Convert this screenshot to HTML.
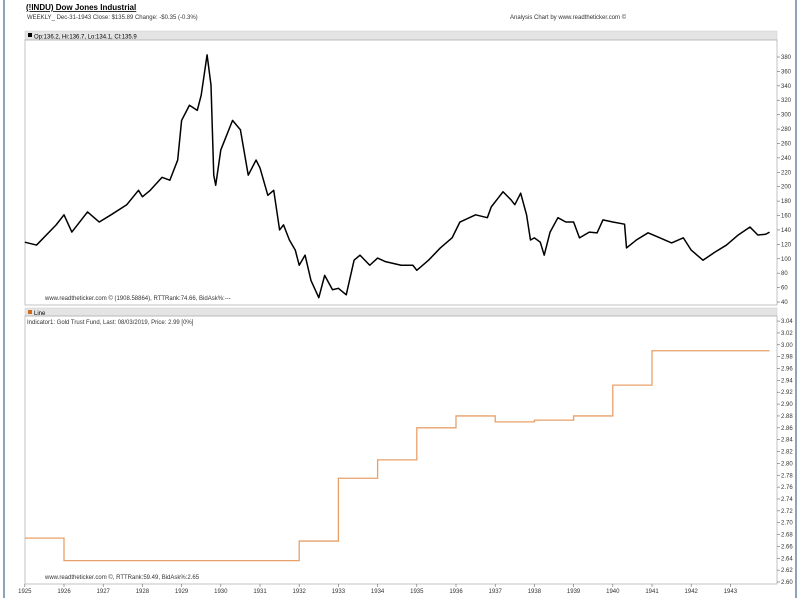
<!DOCTYPE html>
<html><head><meta charset="utf-8"><style>
body{margin:0;background:#fff;font-family:"Liberation Sans",sans-serif}
svg text{font-family:"Liberation Sans",sans-serif}
</style></head><body>
<svg id="c" width="800" height="598" xmlns="http://www.w3.org/2000/svg">
<rect x="0" y="0" width="800" height="598" fill="#fff"/>
<line x1="4" y1="0" x2="4" y2="598" stroke="#8fa3b8" stroke-width="2"/>
<line x1="796" y1="0" x2="796" y2="598" stroke="#8fa3b8" stroke-width="2"/>
<text x="20" y="14" font-size="3">.</text>
<text x="26" y="10" font-size="8" font-weight="bold" text-decoration="underline">(!INDU) Dow Jones Industrial</text>
<text x="27" y="19" font-size="6" fill="#333">WEEKLY_ Dec-31-1943  Close: $135.89  Change: -$0.35  (-0.3%)</text>
<text x="510" y="19" font-size="6" fill="#333">Analysis Chart by www.readtheticker.com ©</text>
<rect x="25" y="31" width="752" height="9" fill="#e4e4e4" stroke="#ccc" stroke-width="0.5"/>
<rect x="28" y="33" width="4" height="4" fill="#000"/>
<text x="34" y="38.5" font-size="6">Op:136.2, Hi:136.7, Lo:134.1, Cl:135.9</text>
<rect x="25" y="40" width="752" height="265" fill="none" stroke="#aaa" stroke-width="0.7"/>
<text x="45" y="300" font-size="6" fill="#333">www.readtheticker.com © (1908.58864), RTTRank:74.66, BidAsk%:---</text>
<rect x="25" y="308" width="752" height="8" fill="#e4e4e4" stroke="#ccc" stroke-width="0.5"/>
<rect x="28" y="310" width="4" height="4" fill="#d2691e"/>
<text x="34" y="315" font-size="6">Line</text>
<text x="27" y="324" font-size="6" fill="#333">Indicator1:  Gold Trust Fund, Last: 08/03/2019,  Price: 2.99 [0%]</text>
<rect x="25" y="316" width="752" height="268" fill="none" stroke="#aaa" stroke-width="0.7"/>
<text x="45" y="579" font-size="6" fill="#333">www.readtheticker.com ©, RTTRank:59.49, BidAsk%:2.65</text>
<g id="g"></g>
</svg>
<script>
const dowDates=[1925.0,1925.3,1925.8,1926.0,1926.2,1926.6,1926.9,1927.2,1927.6,1927.9,1928.0,1928.2,1928.5,1928.7,1928.9,1929.0,1929.2,1929.4,1929.5,1929.65,1929.75,1929.82,1929.87,1930.0,1930.3,1930.5,1930.7,1930.9,1931.0,1931.2,1931.35,1931.5,1931.6,1931.75,1931.9,1932.0,1932.15,1932.3,1932.5,1932.65,1932.85,1933.0,1933.2,1933.4,1933.55,1933.8,1934.0,1934.2,1934.6,1934.9,1935.0,1935.3,1935.6,1935.9,1936.1,1936.5,1936.8,1936.9,1937.1,1937.2,1937.4,1937.5,1937.65,1937.8,1937.9,1938.0,1938.15,1938.25,1938.4,1938.6,1938.8,1939.0,1939.15,1939.4,1939.6,1939.75,1940.0,1940.3,1940.35,1940.6,1940.9,1941.2,1941.5,1941.8,1942.0,1942.3,1942.6,1942.9,1943.2,1943.5,1943.7,1943.9,1944.0];
const dowValues=[123,119,147,161,137,165,151,161,175,195,186,195,213,209,237,292,313,306,327,383,341,216,202,251,292,279,216,237,226,188,195,140,147,126,112,91,105,70,46,77,57,59,50,98,105,91,101,96,91,91,84,98,115,129,151,161,157,172,186,193,182,175,191,161,126,129,123,105,137,157,151,151,129,137,136,154,151,148,115,126,136,129,122,129,112,98,109,119,133,144,133,134,137];
const goldDates=[1925.0,1926.0,1932.0,1933.0,1934.0,1935.0,1936.0,1937.0,1938.0,1939.0,1940.0,1941.0];
const goldValues=[2.674,2.636,2.669,2.775,2.806,2.86,2.88,2.87,2.873,2.88,2.932,2.99];
const yearTicks=[1925,1926,1927,1928,1929,1930,1931,1932,1933,1934,1935,1936,1937,1938,1939,1940,1941,1942,1943];
const dowTicks=[40,60,80,100,120,140,160,180,200,220,240,260,280,300,320,340,360,380];
const goldTicks=[2.60,2.62,2.64,2.66,2.68,2.70,2.72,2.74,2.76,2.78,2.80,2.82,2.84,2.86,2.88,2.90,2.92,2.94,2.96,2.98,3.00,3.02,3.04];
const endDate=1944.0;
const X=t=>64+(t-1926)*39.2;
const Y1=v=>302-(v-40)*0.7206;
const Y2=v=>582-(v-2.60)/0.02*11.86;
const g=document.getElementById('g');const NS='http://www.w3.org/2000/svg';
function mk(tag,at){const e=document.createElementNS(NS,tag);for(const k in at)e.setAttribute(k,at[k]);g.appendChild(e);return e;}
dowTicks.forEach(v=>{const y=Y1(v);
const t=mk('line',{x1:777,y1:y,x2:780,y2:y,stroke:'#666','stroke-width':0.6});


const l=mk('text',{x:781,y:y+2,'font-size':6,fill:'#333'});l.textContent=v;

});
goldTicks.forEach(v=>{const y=Y2(v);
const t=mk('line',{x1:777,y1:y,x2:780,y2:y,stroke:'#666','stroke-width':0.6});


const l=mk('text',{x:781,y:y+2,'font-size':6,fill:'#333'});l.textContent=v.toFixed(2);

});
yearTicks.forEach(yr=>{const x=X(yr);
const t=mk('line',{x1:x,y1:584,x2:x,y2:587,stroke:'#666','stroke-width':0.6});


const l=mk('text',{x:x,y:593,'font-size':6,fill:'#333','text-anchor':'middle'});l.textContent=yr;

});
const dp=mk('polyline',{points:dowDates.map((d,i)=>X(d)+','+Y1(dowValues[i])).join(' '),fill:'none',stroke:'#000','stroke-width':1.5,'stroke-linejoin':'round'});


let pts=[];goldDates.forEach((d,i)=>{const y=Y2(goldValues[i]);pts.push(X(d)+','+y);const nx=i<goldDates.length-1?goldDates[i+1]:endDate;pts.push(X(nx)+','+y);});
const gp=mk('polyline',{points:pts.join(' '),fill:'none',stroke:'#e8a06a','stroke-width':1.3});


</script>
</body></html>
